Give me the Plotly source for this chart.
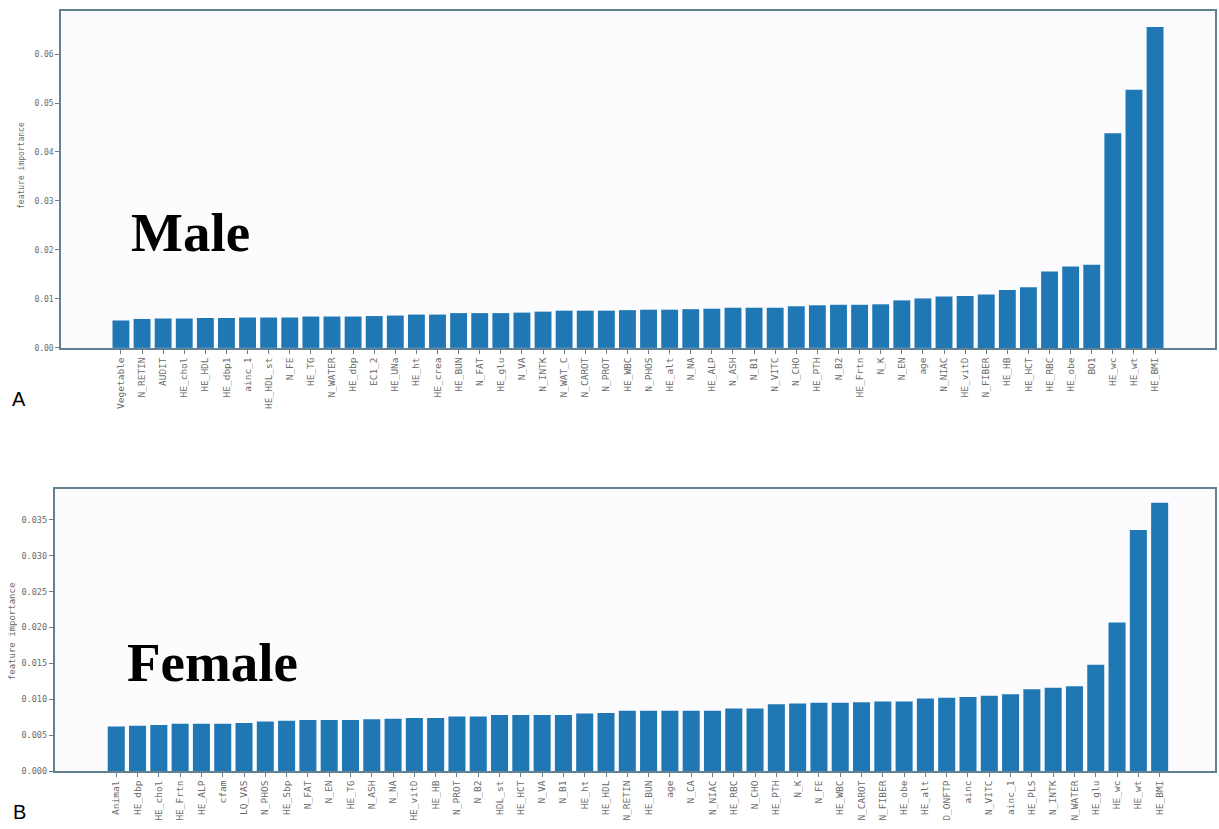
import plotly.graph_objects as go

W, H = 1219, 829

male_features = ["Vegetable", "N_RETIN", "AUDIT", "HE_chol", "HE_HDL", "HE_dbp1", "ainc_1", "HE_HDL_st",
                 "N_FE", "HE_TG", "N_WATER", "HE_dbp", "EC1_2", "HE_UNa", "HE_ht", "HE_crea", "HE_BUN",
                 "N_FAT", "HE_glu", "N_VA", "N_INTK", "N_WAT_C", "N_CAROT", "N_PROT", "HE_WBC", "N_PHOS",
                 "HE_alt", "N_NA", "HE_ALP", "N_ASH", "N_B1", "N_VITC", "N_CHO", "HE_PTH", "N_B2",
                 "HE_Frtn", "N_K", "N_EN", "age", "N_NIAC", "HE_vitD", "N_FIBER", "HE_HB", "HE_HCT",
                 "HE_RBC", "HE_obe", "BO1", "HE_wc", "HE_wt", "HE_BMI"]
male_importance = [0.0056, 0.0059, 0.0060, 0.0060, 0.0061, 0.0061, 0.0062, 0.0062,
                   0.0062, 0.0064, 0.0064, 0.0064, 0.0065, 0.0066, 0.0068, 0.0068, 0.0071,
                   0.0071, 0.0071, 0.0072, 0.0074, 0.0076, 0.0076, 0.0076, 0.0077, 0.0078,
                   0.0078, 0.0079, 0.0080, 0.0082, 0.0082, 0.0082, 0.0085, 0.0087, 0.0088,
                   0.0088, 0.0089, 0.0097, 0.0101, 0.0105, 0.0106, 0.0109, 0.0118, 0.0124,
                   0.0156, 0.0166, 0.0170, 0.0438, 0.0527, 0.0655]

female_features = ["Animal", "HE_dbp", "HE_chol", "HE_Frtn", "HE_ALP", "cfam", "LQ_VAS", "N_PHOS",
                   "HE_Sbp", "N_FAT", "N_EN", "HE_TG", "N_ASH", "N_NA", "HE_vitD", "HE_HB", "N_PROT",
                   "N_B2", "HDL_st", "HE_HCT", "N_VA", "N_B1", "HE_ht", "HE_HDL", "N_RETIN", "HE_BUN",
                   "age", "N_CA", "N_NIAC", "HE_RBC", "N_CHO", "HE_PTH", "N_K", "N_FE", "HE_WBC",
                   "N_CAROT", "N_FIBER", "HE_obe", "HE_alt", "D_ONFTP", "ainc", "N_VITC", "ainc_1",
                   "HE_PLS", "N_INTK", "N_WATER", "HE_glu", "HE_wc", "HE_wt", "HE_BMI"]
female_importance = [0.0062, 0.0063, 0.0064, 0.0066, 0.0066, 0.0066, 0.0067, 0.0069,
                     0.0070, 0.0071, 0.0071, 0.0071, 0.0072, 0.0073, 0.0074, 0.0074, 0.0076,
                     0.0076, 0.0078, 0.0078, 0.0078, 0.0078, 0.0080, 0.0081, 0.0084, 0.0084,
                     0.0084, 0.0084, 0.0084, 0.0087, 0.0087, 0.0093, 0.0094, 0.0095, 0.0095,
                     0.0096, 0.0097, 0.0097, 0.0101, 0.0102, 0.0103, 0.0105, 0.0107,
                     0.0114, 0.0116, 0.0118, 0.0148, 0.0207, 0.0336, 0.0374]

male_ticks = [0.0, 0.01, 0.02, 0.03, 0.04, 0.05, 0.06]
male_ticktext = ["0.00", "0.01", "0.02", "0.03", "0.04", "0.05", "0.06"]
female_ticks = [0.0, 0.005, 0.01, 0.015, 0.02, 0.025, 0.03, 0.035]
female_ticktext = ["0.000", "0.005", "0.010", "0.015", "0.020", "0.025", "0.030", "0.035"]

BAR = "#1f77b4"
LINE = "#62808f"
TICKC = "#6a6a6a"

fig = go.Figure()
fig.add_trace(go.Bar(x=list(range(len(male_features))), y=male_importance, marker_color=BAR,
                     marker_line_width=0, width=0.8, xaxis="x", yaxis="y", showlegend=False))
fig.add_trace(go.Bar(x=list(range(len(female_features))), y=female_importance, marker_color=BAR,
                     marker_line_width=0, width=0.8, xaxis="x2", yaxis="y2", showlegend=False))

def px_x(v):
    return v / W

def px_y(v):
    return 1 - v / H

axis_common = dict(showline=True, linecolor=LINE, linewidth=1.5, mirror=True, showgrid=False,
                   zeroline=False, ticks="outside", ticklen=4, tickcolor=LINE)

fig.update_layout(
    width=W, height=H, margin=dict(l=0, r=0, t=0, b=0),
    paper_bgcolor="#ffffff", plot_bgcolor="#fcfcfe", bargap=0.2,
    xaxis=dict(domain=[px_x(61), px_x(1215)], anchor="y", range=[-2.84, 51.84],
               tickmode="array", tickvals=list(range(len(male_features))), ticktext=male_features,
               tickangle=-90, tickfont=dict(family="DejaVu Sans Mono", size=9.5, color=TICKC), **axis_common),
    yaxis=dict(domain=[px_y(350), px_y(11)], anchor="x", range=[0, 0.0688],
               tickmode="array", tickvals=male_ticks, ticktext=male_ticktext,
               tickfont=dict(family="DejaVu Sans Mono", size=8, color=TICKC), **axis_common),
    xaxis2=dict(domain=[px_x(54.5), px_x(1215)], anchor="y2", range=[-2.9, 51.6],
                tickmode="array", tickvals=list(range(len(female_features))), ticktext=female_features,
                tickangle=-90, tickfont=dict(family="DejaVu Sans Mono", size=9.5, color=TICKC), **axis_common),
    yaxis2=dict(domain=[px_y(775.7), px_y(492)], anchor="x2", range=[0, 0.0393],
                tickmode="array", tickvals=female_ticks, ticktext=female_ticktext,
                tickfont=dict(family="DejaVu Sans Mono", size=8.5, color=TICKC), **axis_common),
)

def ann(text, x, y, size, family, angle=0, color="#000000"):
    return dict(text=text, x=px_x(x), y=px_y(y), xref="paper", yref="paper",
                xanchor="center", yanchor="middle", showarrow=False, textangle=angle,
                font=dict(family=family, size=size, color=color))

annotations = [
    ann("feature importance", 22, 167, 8, "DejaVu Sans Mono", -90, TICKC),
    ann("feature importance", 12, 635, 9, "DejaVu Sans Mono", -90, TICKC),
    ann("<b>Male</b>", 190, 234, 55, "Liberation Serif"),
    ann("<b>Female</b>", 212, 667, 55, "Liberation Serif"),
    ann("A", 19, 401, 20, "Liberation Sans"),
    ann("B", 19, 817, 20, "Liberation Sans"),
]
fig.update_layout(annotations=annotations)

fig.write_html("out.html")
